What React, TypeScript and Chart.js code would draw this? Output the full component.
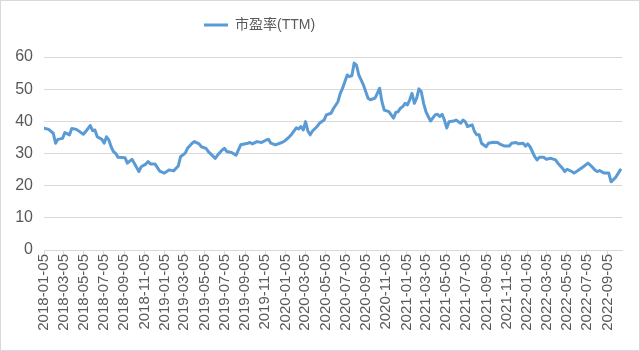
import React, { useEffect, useRef } from "react";
import { Chart, registerables } from "chart.js";

Chart.register(...registerables);

const seriesName = "市盈率(TTM)";
const startDate = "2018-01-05";

// weeks elapsed since startDate for each reading
const weeks = [
  0, 2, 4, 5, 6, 8, 9, 11, 12, 14, 17, 18, 20, 21, 22, 23, 25, 26, 27, 28,
  29, 30, 31, 32, 35, 36, 38, 39, 41, 42, 44, 45, 46, 48, 50, 52, 54, 56, 58, 59,
  61, 62, 64, 65, 67, 68, 70, 71, 72, 74, 75, 77, 78, 79, 81, 83, 84, 85, 88, 89,
  90, 92, 94, 96, 97, 98, 100, 103, 104, 106, 107, 109, 110, 111, 112, 113, 114, 115, 116, 118,
  119, 121, 122, 124, 125, 127, 128, 129, 131, 132, 133, 134, 135, 136, 137, 138, 140, 141, 143, 144,
  145, 146, 147, 149, 151, 152, 153, 154, 155, 156, 157, 158, 159, 160, 161, 162, 163, 164, 165, 166,
  167, 169, 170, 171, 172, 173, 174, 175, 177, 178, 180, 181, 182, 183, 185, 186, 187, 188, 189, 191,
  192, 194, 196, 197, 199, 201, 202, 204, 205, 207, 208, 209, 210, 212, 213, 214, 216, 217, 219, 221,
  222, 224, 225, 226, 228, 229, 231, 233, 235, 236, 238, 239, 240, 242, 244, 245, 247, 249,
];

const values = [
  37.9, 37.5, 36.3, 33.2, 34.4, 34.7, 36.5, 35.8, 37.8, 37.5, 36.0, 36.8, 38.7, 37.1, 37.3, 35.2, 34.4, 33.2, 35.2, 34.2,
  32.1, 30.6, 30.0, 28.8, 28.7, 27.0, 28.2, 27.0, 24.4, 25.9, 26.7, 27.5, 26.7, 26.7, 24.5, 23.9, 24.9, 24.6, 26.1, 29.0,
  30.1, 31.6, 33.2, 33.7, 33.0, 32.1, 31.6, 30.6, 29.9, 28.5, 29.5, 31.1, 31.6, 30.6, 30.3, 29.5, 31.1, 32.7, 33.2, 33.4,
  33.0, 33.7, 33.4, 34.2, 34.4, 33.2, 32.7, 33.5, 33.9, 35.2, 36.0, 38.0, 37.6, 38.4, 37.3, 39.9, 37.0, 35.8, 37.0, 38.4,
  39.4, 40.4, 42.0, 42.5, 43.9, 46.1, 48.7, 50.3, 54.4, 53.9, 54.2, 58.1, 57.5, 54.4, 52.9, 51.3, 47.2, 46.7, 47.2, 48.7,
  50.3, 46.1, 43.5, 43.0, 41.0, 42.8, 43.0, 44.1, 44.6, 45.6, 45.1, 46.7, 48.7, 45.6, 47.2, 50.1, 49.2, 45.6, 43.0, 41.5,
  40.1, 42.0, 42.2, 41.5, 42.2, 40.4, 37.9, 39.9, 40.1, 40.4, 39.4, 40.4, 39.9, 38.4, 38.9, 36.8, 35.8, 35.8, 33.2, 32.1,
  33.2, 33.5, 33.4, 32.9, 32.3, 32.3, 33.2, 33.4, 33.0, 33.2, 32.3, 33.0, 32.1, 29.0, 28.0, 28.8, 28.8, 28.2, 28.5, 28.0,
  27.0, 25.4, 24.4, 25.1, 24.4, 23.9, 24.9, 25.9, 27.0, 26.4, 24.9, 24.4, 24.7, 23.9, 23.9, 21.2, 22.6, 24.9,
];

const tickLabels = [
  "2018-01-05", "2018-03-05", "2018-05-05", "2018-07-05", "2018-09-05", "2018-11-05",
  "2019-01-05", "2019-03-05", "2019-05-05", "2019-07-05", "2019-09-05", "2019-11-05",
  "2020-01-05", "2020-03-05", "2020-05-05", "2020-07-05", "2020-09-05", "2020-11-05",
  "2021-01-05", "2021-03-05", "2021-05-05", "2021-07-05", "2021-09-05", "2021-11-05",
  "2022-01-05", "2022-03-05", "2022-05-05", "2022-07-05", "2022-09-05",
];

const yTicks = [0, 10, 20, 30, 40, 50, 60];
const axisEndDate = "2022-10-19";

const DAY = 86400000;
const dayOf = (s: string) => Math.round((Date.parse(s) - Date.parse(startDate)) / DAY);
const tickDays = tickLabels.map(dayOf);

const FONT = '"Liberation Sans", "Noto Sans CJK SC", Arial, sans-serif';
const TEXT = "#595959";
const GRID = "#D9D9D9";
const BLUE = "#5B9BD5";

const framePlugin = {
  id: "frame",
  beforeDraw(chart: any) {
    const { ctx, width, height } = chart;
    ctx.save();
    ctx.fillStyle = "#ffffff";
    ctx.fillRect(0, 0, width, height);
    ctx.restore();
    const lg = chart.legend;
    if (lg && lg.lineWidths) {
      const itemW = lg.lineWidths[0] - lg.options.labels.padding;
      const w = lg.width;
      const left = (2 * 204 + itemW - w) / 2;
      lg.left = left;
      lg.right = left + w;
      const h = lg.height;
      lg.top = 8;
      lg.bottom = 8 + h;
    }
  },
  afterDraw(chart: any) {
    const { ctx, width, height } = chart;
    ctx.save();
    ctx.strokeStyle = GRID;
    ctx.lineWidth = 1;
    ctx.strokeRect(0.5, 0.5, width - 1, height - 1);
    ctx.restore();
  },
};

export default function App() {
  const ref = useRef<HTMLCanvasElement | null>(null);

  useEffect(() => {
    if (!ref.current) return;
    const chart = new Chart(ref.current, {
      type: "line",
      data: {
        datasets: [
          {
            label: seriesName,
            data: weeks.map((w, i) => ({ x: w * 7, y: values[i] })),
            borderColor: BLUE,
            backgroundColor: BLUE,
            borderWidth: 3,
            pointRadius: 0,
            pointHoverRadius: 0,
            fill: false,
            tension: 0,
            borderJoinStyle: "round",
            borderCapStyle: "round",
          },
        ],
      },
      options: {
        responsive: false,
        animation: false,
        devicePixelRatio: 1,
        events: [],
        layout: { padding: { top: 23, right: 18, bottom: 0, left: 0 } },
        plugins: {
          legend: {
            display: true,
            position: "top",
            labels: {
              usePointStyle: true,
              pointStyle: "line",
              pointStyleWidth: 24,
              color: TEXT,
              font: { size: 14, family: FONT },
              padding: 10,
            },
          },
          tooltip: { enabled: false },
        },
        scales: {
          x: {
            type: "linear",
            min: 0,
            max: dayOf(axisEndDate),
            afterBuildTicks: (s: any) => {
              s.ticks = tickDays.map((v) => ({ value: v }));
            },
            afterFit: (s: any) => {
              s.height = 101;
            },
            ticks: {
              autoSkip: false,
              maxRotation: 90,
              minRotation: 90,
              padding: 0,
              color: TEXT,
              font: { size: 15, family: FONT },
              callback: (v: any) => {
                const i = tickDays.indexOf(Number(v));
                return i >= 0 ? tickLabels[i] : "";
              },
            },
            grid: { drawOnChartArea: false, color: GRID, tickLength: 4, tickColor: GRID },
            border: { color: GRID, width: 1 },
          },
          y: {
            min: 0,
            max: 60,
            afterBuildTicks: (s: any) => {
              s.ticks = yTicks.map((v) => ({ value: v }));
            },
            afterFit: (s: any) => {
              s.width = 44;
            },
            ticks: {
              padding: 11,
              color: TEXT,
              font: { size: 16, family: FONT },
            },
            grid: { color: GRID, drawTicks: false, lineWidth: 1 },
            border: { display: false },
          },
        },
      },
      plugins: [framePlugin],
    } as any);
    return () => chart.destroy();
  }, []);

  return (
    <div style={{ position: "fixed", left: 0, top: 0, width: 640, height: 351, background: "#fff" }}>
      <canvas ref={ref} width={640} height={351} style={{ display: "block" }} />
    </div>
  );
}
